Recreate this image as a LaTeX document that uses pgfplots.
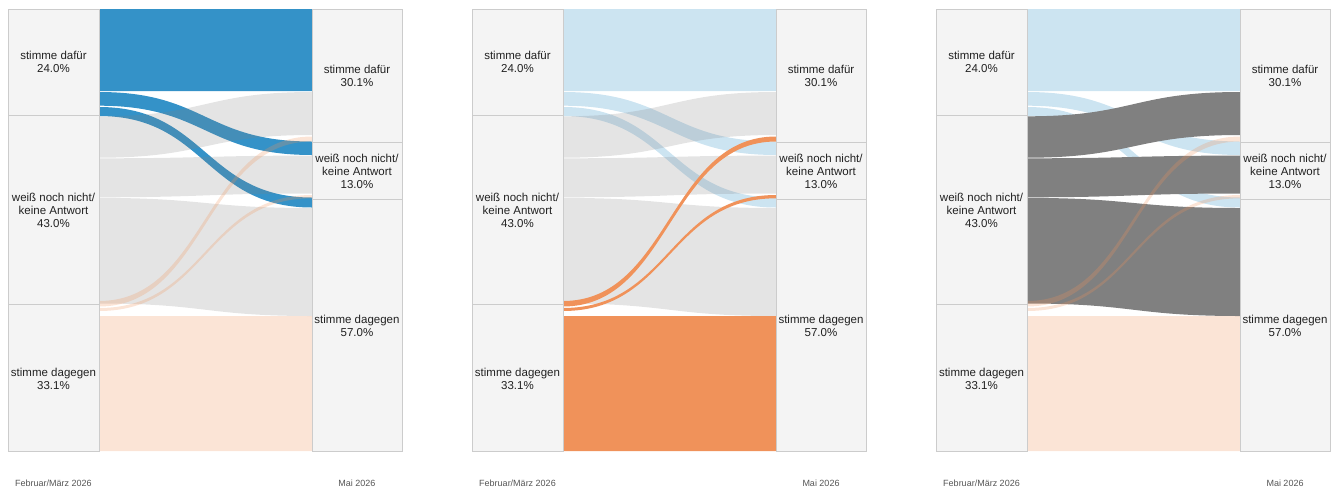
\documentclass[border=0pt]{standalone}
\usepackage{pgfplots}
\pgfplotsset{compat=1.18}
\usepackage{fontspec}
\setmainfont{Liberation Sans}

\definecolor{cblue}{RGB}{52,146,200}
\definecolor{corange}{RGB}{240,146,90}
\definecolor{cgray}{RGB}{128,128,128}
\definecolor{nodefill}{RGB}{244,244,244}
\definecolor{nodeline}{RGB}{204,204,204}
\definecolor{labelgray}{RGB}{85,85,85}

\pgfplotsset{panel/.style={width=415bp, height=491bp, scale only axis,
    xmin=0, xmax=415, ymin=0, ymax=491, y dir=reverse,
    hide axis, clip=false, anchor=north west}}

% flow band: style, left top, left bottom, right top, right bottom
\newcommand\flow[5]{\fill[#1] (axis cs:99,#2) .. controls (axis cs:205.5,#2) and (axis cs:205.5,#4) .. (axis cs:312,#4)
  -- (axis cs:312,#5) .. controls (axis cs:205.5,#5) and (axis cs:205.5,#3) .. (axis cs:99,#3) -- cycle;}
% node box: x0, x1, top, bottom
\newcommand\nodebox[4]{\addplot[fill=nodefill, draw=nodeline, line width=1bp]
  coordinates {(#1,#3)(#2,#3)(#2,#4)(#1,#4)} -- cycle;}
\newcommand\lbl[3]{\node[align=center, text=black!87, font=\fontsize{11.5bp}{13bp}\selectfont] at (axis cs:#1,#2) {#3};}

% opacity of: stimme dafuer flows, weiss-noch-nicht flows, stimme dagegen flows
\newcommand\panelcontent[3]{%
  \path (axis cs:0,0) (axis cs:415,491);
  % from stimme dafuer
  \flow{cblue, opacity=#1}{9}{91}{9}{91}
  \flow{cblue, opacity=#1}{92}{105.7}{141.5}{155}
  \flow{cblue, opacity=#1}{107}{116}{197.5}{207.5}
  % from weiss noch nicht
  \flow{cgray, opacity=#2}{116.3}{157.7}{92}{135}
  \flow{cgray, opacity=#2}{158.3}{197.3}{155.6}{193.5}
  \flow{cgray, opacity=#2}{197.9}{303.5}{208}{316}
  % from stimme dagegen
  \flow{corange, opacity=#3}{301}{306.5}{136.5}{141.5}
  \flow{corange, opacity=#3}{308}{311}{195}{198.3}
  \flow{corange, opacity=#3}{316}{451}{316}{451}
  % nodes
  \nodebox{8}{99}{9}{115}
  \nodebox{8}{99}{115}{304}
  \nodebox{8}{99}{304}{451}
  \nodebox{312}{402}{9}{142}
  \nodebox{312}{402}{142}{199}
  \nodebox{312}{402}{199}{451}
  \lbl{53.5}{62}{stimme dafür\\24.0\%}
  \lbl{53.5}{210}{weiß noch nicht/\\keine Antwort\\43.0\%}
  \lbl{53.5}{378.5}{stimme dagegen\\33.1\%}
  \lbl{357}{75.5}{stimme dafür\\30.1\%}
  \lbl{357}{171}{weiß noch nicht/\\keine Antwort\\13.0\%}
  \lbl{357}{325.5}{stimme dagegen\\57.0\%}
  \node[text=labelgray, font=\fontsize{9bp}{10bp}\selectfont] at (axis cs:53.5,483) {Februar/März 2026};
  \node[text=labelgray, font=\fontsize{9bp}{10bp}\selectfont] at (axis cs:357,483) {Mai 2026};
}

\begin{document}
\begin{tikzpicture}
\begin{axis}[panel, at={(0bp,0bp)}]
  \panelcontent{1}{0.21}{0.25}
\end{axis}
\begin{axis}[panel, at={(464bp,0bp)}]
  \panelcontent{0.25}{0.21}{1}
\end{axis}
\begin{axis}[panel, at={(928bp,0bp)}]
  \panelcontent{0.25}{1}{0.25}
\end{axis}
\end{tikzpicture}
\end{document}
